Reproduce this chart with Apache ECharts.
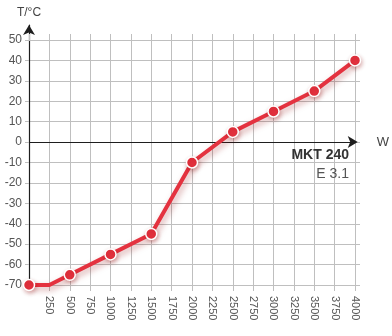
<!DOCTYPE html>
<html><head><meta charset="utf-8">
<script src="https://cdn.jsdelivr.net/npm/echarts@6/dist/echarts.min.js"></script>
<style>html,body{margin:0;padding:0;background:#fff}#c{width:392px;height:336px}</style>
</head><body><div id="c"></div>
<script>
// ---- data ----
const powerW = [0, 250, 500, 1000, 1500, 2000, 2500, 3000, 3500, 4000];
const tempC = [-70, -70, -65, -55, -45, -10, 5, 15, 25, 40];
const markerShown = [true, false, true, true, true, true, true, true, true, true];
const xTickMin = 0, xTickMax = 4000, xTickStep = 250;
const yTickMin = -70, yTickMax = 50, yTickStep = 10;
const xName = 'W';
const yName = 'T/°C';
const modelName = 'MKT 240';
const modelVersion = 'E 3.1';

// ---- style ----
const RED = '#e4323f';
const GRIDC = '#bfbfbf';
const AXISC = '#1e1e1e';
const FONT = '"Liberation Sans", Arial, Helvetica, sans-serif';

const gA = {left: 29, right: 37, top: 40, bottom: 51};
const gB = {left: 29, right: 17, top: 25, bottom: 51};
const plotH = 336 - gA.top - gA.bottom;
const yMaxB = yTickMax + (gA.top - gB.top) / plotH * (yTickMax - yTickMin);

const chart = echarts.init(document.getElementById('c'), null, {renderer: 'canvas'});
chart.setOption({
  animation: false,
  backgroundColor: '#fff',
  textStyle: {fontFamily: FONT},
  title: [
    {
      text: modelName, right: 38, top: 143,
      textStyle: {fontSize: 14, fontWeight: 'bold', color: '#333', fontFamily: FONT}
    },
    {
      text: modelVersion, right: 38, top: 162,
      textStyle: {fontSize: 14, fontWeight: 'normal', color: '#555', fontFamily: FONT}
    }
  ],
  grid: [
    Object.assign({containLabel: false}, gA),
    Object.assign({containLabel: false}, gB)
  ],
  xAxis: [
    {
      gridIndex: 0, type: 'value', min: xTickMin, max: xTickMax, interval: xTickStep, position: 'bottom',
      axisLine: {onZero: false, lineStyle: {color: GRIDC}},
      axisTick: {length: 6, lineStyle: {color: GRIDC}},
      axisLabel: {rotate: -90, margin: 11, showMinLabel: false, fontSize: 11, color: '#555', fontFamily: FONT,
        formatter: v => String(v)},
      splitLine: {lineStyle: {color: GRIDC, width: 1}}
    },
    {
      gridIndex: 0, type: 'value', min: xTickMin, max: xTickMax, interval: xTickStep, position: 'top',
      axisLine: {onZero: false, lineStyle: {color: GRIDC}},
      axisTick: {length: 6, lineStyle: {color: GRIDC}},
      axisLabel: {show: false}, splitLine: {show: false}
    },
    {
      gridIndex: 1, type: 'value', min: xTickMin, max: xTickMax, position: 'bottom',
      axisLine: {onZero: true, symbol: ['none', 'arrow'], symbolSize: [9, 10], lineStyle: {color: AXISC, width: 1.2}},
      axisTick: {show: false}, axisLabel: {show: false}, splitLine: {show: false},
      name: xName, nameLocation: 'end', nameGap: 19,
      nameTextStyle: {fontSize: 13, color: '#444', fontFamily: FONT}
    }
  ],
  yAxis: [
    {
      gridIndex: 0, type: 'value', min: yTickMin, max: yTickMax, interval: yTickStep, position: 'left',
      axisLine: {onZero: false, show: false},
      axisTick: {show: true, length: 4, lineStyle: {color: GRIDC}},
      axisLabel: {margin: 7, fontSize: 12, color: '#555', fontFamily: FONT},
      splitLine: {lineStyle: {color: GRIDC, width: 1}}
    },
    {
      gridIndex: 0, type: 'value', min: yTickMin, max: yTickMax, interval: yTickStep, position: 'right',
      axisLine: {onZero: false, show: true, lineStyle: {color: GRIDC}},
      axisTick: {show: true, length: 5, lineStyle: {color: GRIDC}},
      axisLabel: {show: false}, splitLine: {show: false}
    },
    {
      gridIndex: 1, type: 'value', min: yTickMin, max: yMaxB, position: 'left',
      axisLine: {onZero: true, show: true, symbol: ['none', 'arrow'], symbolSize: [9, 10], lineStyle: {color: AXISC, width: 1.2}},
      axisTick: {show: false}, axisLabel: {show: false}, splitLine: {show: false},
      name: yName, nameLocation: 'end', nameGap: 6,
      nameTextStyle: {fontSize: 12, color: '#444', fontFamily: FONT, align: 'center'}
    }
  ],
  series: [{
    type: 'line', xAxisIndex: 0, yAxisIndex: 0, z: 10, clip: false,
    data: powerW.map((w, i) => ({value: [w, tempC[i]], symbol: markerShown[i] ? 'circle' : 'none'})),
    symbolSize: 11,
    lineStyle: {color: RED, width: 4, shadowColor: 'rgba(140,0,0,0.35)', shadowBlur: 6, shadowOffsetX: 2, shadowOffsetY: 3},
    itemStyle: {color: RED, borderColor: '#fff', borderWidth: 1.5, shadowColor: 'rgba(140,0,0,0.3)', shadowBlur: 4, shadowOffsetX: 1, shadowOffsetY: 2}
  }]
});
</script></body></html>
